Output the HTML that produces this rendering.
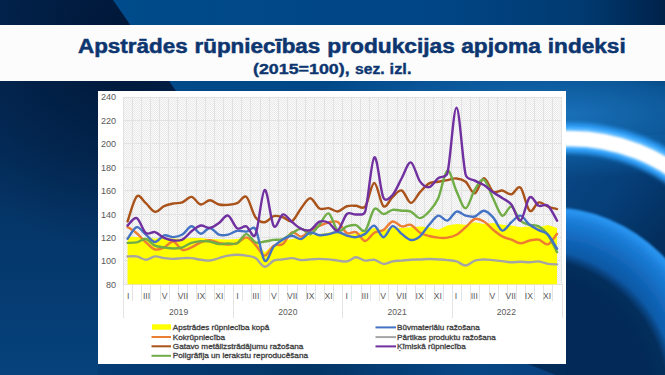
<!DOCTYPE html>
<html><head><meta charset="utf-8">
<style>
html,body{margin:0;padding:0;width:665px;height:375px;overflow:hidden;background:#03305f;}
svg{position:absolute;left:0;top:0;display:block;}
text{font-family:"Liberation Sans",sans-serif;}
</style></head>
<body>
<svg width="665" height="375" viewBox="0 0 665 375">
<defs>
<linearGradient id="bgL" x1="0" y1="0" x2="0" y2="1">
<stop offset="0" stop-color="#032a58"/><stop offset="0.4" stop-color="#04305f"/><stop offset="1" stop-color="#06427c"/>
</linearGradient>
<radialGradient id="shadeL" gradientUnits="userSpaceOnUse" cx="125" cy="40" r="210">
<stop offset="0" stop-color="#001535" stop-opacity="0.95"/><stop offset="0.5" stop-color="#001535" stop-opacity="0.5"/><stop offset="1" stop-color="#001535" stop-opacity="0"/>
</radialGradient>
<linearGradient id="bgTop" gradientUnits="userSpaceOnUse" x1="113" y1="0" x2="665" y2="0">
<stop offset="0" stop-color="#004b8b"/><stop offset="0.6" stop-color="#014585"/><stop offset="0.85" stop-color="#013a70"/><stop offset="1" stop-color="#00224a"/>
</linearGradient>
<linearGradient id="bgR" gradientUnits="userSpaceOnUse" x1="566" y1="135" x2="665" y2="81">
<stop offset="0" stop-color="#136aae"/><stop offset="0.5" stop-color="#0a5597"/><stop offset="1" stop-color="#013a72"/>
</linearGradient>
<radialGradient id="band" gradientUnits="userSpaceOnUse" cx="548" cy="367" r="161">
<stop offset="0.6" stop-color="#0a4a8e"/><stop offset="0.78" stop-color="#1062b4"/><stop offset="0.92" stop-color="#1b7ed8"/><stop offset="0.98" stop-color="#2a96f2"/><stop offset="1" stop-color="#1f84dc"/>
</radialGradient>
<linearGradient id="mid" gradientUnits="userSpaceOnUse" x1="566" y1="150" x2="665" y2="235">
<stop offset="0" stop-color="#0a4886"/><stop offset="0.5" stop-color="#063f79"/><stop offset="1" stop-color="#032e5d"/>
</linearGradient>
<radialGradient id="dark" gradientUnits="userSpaceOnUse" cx="528" cy="398" r="150">
<stop offset="0.8" stop-color="#022957"/><stop offset="0.93" stop-color="#032e5c"/><stop offset="1" stop-color="#042f5e" stop-opacity="0"/>
</radialGradient>
<filter id="blur2" x="-20%" y="-50%" width="140%" height="200%"><feGaussianBlur stdDeviation="2.2"/></filter>
<filter id="blur1" x="-20%" y="-50%" width="140%" height="200%"><feGaussianBlur stdDeviation="0.8"/></filter>
<filter id="blur3" x="-20%" y="-20%" width="140%" height="140%"><feGaussianBlur stdDeviation="1.2"/></filter>
<pattern id="chk" width="2" height="2" patternUnits="userSpaceOnUse">
<rect width="2" height="2" fill="#fbfbfb"/><rect width="1" height="1" fill="#e9e9e9"/><rect x="1" y="1" width="1" height="1" fill="#e9e9e9"/>
</pattern>
<radialGradient id="glow" gradientUnits="userSpaceOnUse" cx="560" cy="114" r="64" gradientTransform="translate(560 114) scale(4.2 1) translate(-560 -114)">
<stop offset="0" stop-color="#1a70b8"/><stop offset="0.55" stop-color="#0d5ea2" stop-opacity="0.85"/><stop offset="1" stop-color="#0d5ea2" stop-opacity="0"/>
</radialGradient>
<linearGradient id="bot" gradientUnits="userSpaceOnUse" x1="98" y1="0" x2="566" y2="0">
<stop offset="0" stop-color="#053c76"/><stop offset="0.45" stop-color="#033566"/><stop offset="0.8" stop-color="#074685"/><stop offset="1" stop-color="#083f7c"/>
</linearGradient>
<clipPath id="rclip"><rect x="566" y="81" width="99" height="294"/></clipPath>
</defs>
<!-- background -->
<rect width="665" height="375" fill="url(#bgL)"/>
<rect width="300" height="375" fill="url(#shadeL)"/>
<polygon points="113,0 665,0 665,375 566,375 566,91 176,91" fill="url(#bgTop)"/>
<g clip-path="url(#rclip)">
<rect x="566" y="135" width="99" height="240" fill="url(#mid)"/>
<circle cx="548" cy="367" r="160" fill="url(#band)" filter="url(#blur1)"/>
<circle cx="528" cy="398" r="150" fill="url(#dark)"/>
</g>
<rect x="176" y="40" width="489" height="160" fill="url(#glow)"/>
<g clip-path="url(#rclip)">
<circle cx="570" cy="322" r="184" stroke="#2f9ef8" stroke-width="30" fill="none" filter="url(#blur2)"/>
<circle cx="570" cy="322" r="184" stroke="#5ab8ff" stroke-width="21" fill="none" filter="url(#blur1)"/>
<circle cx="570" cy="322.5" r="184" stroke="#ffffff" stroke-width="15.5" fill="none" filter="url(#blur1)"/>
</g>
<rect x="98" y="364" width="468" height="11" fill="url(#bot)"/>
<polygon points="528,364 566,364 566,375 556,375" fill="#022b59"/>
<!-- banner -->
<rect x="0" y="25" width="665" height="56" fill="#fcfcfc"/>
<g font-weight="bold" fill="#0d3670" stroke="#0d3670">
<text x="78.0" y="53" font-size="19.5" stroke-width="0.5" textLength="109.6" lengthAdjust="spacingAndGlyphs">Apstrādes</text>
<text x="194.5" y="53" font-size="19.5" stroke-width="0.5" textLength="125.8" lengthAdjust="spacingAndGlyphs">rūpniecības</text>
<text x="327.3" y="53" font-size="19.5" stroke-width="0.5" textLength="127.6" lengthAdjust="spacingAndGlyphs">produkcijas</text>
<text x="461.2" y="53" font-size="19.5" stroke-width="0.5" textLength="79.6" lengthAdjust="spacingAndGlyphs">apjoma</text>
<text x="547.8" y="53" font-size="19.5" stroke-width="0.5" textLength="77.9" lengthAdjust="spacingAndGlyphs">indeksi</text>
<text x="253.0" y="74.4" font-size="13.8" stroke-width="0.35" textLength="96.6" lengthAdjust="spacingAndGlyphs">(2015=100),</text>
<text x="355.1" y="74.4" font-size="13.8" stroke-width="0.35" textLength="29.6" lengthAdjust="spacingAndGlyphs">sez.</text>
<text x="389.6" y="74.4" font-size="13.8" stroke-width="0.35" textLength="21.9" lengthAdjust="spacingAndGlyphs">izl.</text>
</g>
<!-- chart panel -->
<rect x="98" y="91" width="468" height="273" fill="#ffffff"/>
<rect x="123" y="97" width="438.6" height="187.3" fill="url(#chk)"/>
<g stroke="#e2e2e2" stroke-width="1" shape-rendering="crispEdges">
<line x1="123.0" y1="97.00" x2="561.6" y2="97.00"/>
<line x1="123.0" y1="120.41" x2="561.6" y2="120.41"/>
<line x1="123.0" y1="143.82" x2="561.6" y2="143.82"/>
<line x1="123.0" y1="167.24" x2="561.6" y2="167.24"/>
<line x1="123.0" y1="190.65" x2="561.6" y2="190.65"/>
<line x1="123.0" y1="214.06" x2="561.6" y2="214.06"/>
<line x1="123.0" y1="237.48" x2="561.6" y2="237.48"/>
<line x1="123.0" y1="260.89" x2="561.6" y2="260.89"/>
<line x1="123.0" y1="284.30" x2="561.6" y2="284.30"/>
<line x1="123.00" y1="97.0" x2="123.00" y2="284.3"/>
<line x1="132.14" y1="97.0" x2="132.14" y2="284.3"/>
<line x1="141.28" y1="97.0" x2="141.28" y2="284.3"/>
<line x1="150.41" y1="97.0" x2="150.41" y2="284.3"/>
<line x1="159.55" y1="97.0" x2="159.55" y2="284.3"/>
<line x1="168.69" y1="97.0" x2="168.69" y2="284.3"/>
<line x1="177.82" y1="97.0" x2="177.82" y2="284.3"/>
<line x1="186.96" y1="97.0" x2="186.96" y2="284.3"/>
<line x1="196.10" y1="97.0" x2="196.10" y2="284.3"/>
<line x1="205.24" y1="97.0" x2="205.24" y2="284.3"/>
<line x1="214.38" y1="97.0" x2="214.38" y2="284.3"/>
<line x1="223.51" y1="97.0" x2="223.51" y2="284.3"/>
<line x1="232.65" y1="97.0" x2="232.65" y2="284.3"/>
<line x1="241.79" y1="97.0" x2="241.79" y2="284.3"/>
<line x1="250.93" y1="97.0" x2="250.93" y2="284.3"/>
<line x1="260.06" y1="97.0" x2="260.06" y2="284.3"/>
<line x1="269.20" y1="97.0" x2="269.20" y2="284.3"/>
<line x1="278.34" y1="97.0" x2="278.34" y2="284.3"/>
<line x1="287.48" y1="97.0" x2="287.48" y2="284.3"/>
<line x1="296.61" y1="97.0" x2="296.61" y2="284.3"/>
<line x1="305.75" y1="97.0" x2="305.75" y2="284.3"/>
<line x1="314.89" y1="97.0" x2="314.89" y2="284.3"/>
<line x1="324.03" y1="97.0" x2="324.03" y2="284.3"/>
<line x1="333.16" y1="97.0" x2="333.16" y2="284.3"/>
<line x1="342.30" y1="97.0" x2="342.30" y2="284.3"/>
<line x1="351.44" y1="97.0" x2="351.44" y2="284.3"/>
<line x1="360.58" y1="97.0" x2="360.58" y2="284.3"/>
<line x1="369.71" y1="97.0" x2="369.71" y2="284.3"/>
<line x1="378.85" y1="97.0" x2="378.85" y2="284.3"/>
<line x1="387.99" y1="97.0" x2="387.99" y2="284.3"/>
<line x1="397.13" y1="97.0" x2="397.13" y2="284.3"/>
<line x1="406.26" y1="97.0" x2="406.26" y2="284.3"/>
<line x1="415.40" y1="97.0" x2="415.40" y2="284.3"/>
<line x1="424.54" y1="97.0" x2="424.54" y2="284.3"/>
<line x1="433.68" y1="97.0" x2="433.68" y2="284.3"/>
<line x1="442.81" y1="97.0" x2="442.81" y2="284.3"/>
<line x1="451.95" y1="97.0" x2="451.95" y2="284.3"/>
<line x1="461.09" y1="97.0" x2="461.09" y2="284.3"/>
<line x1="470.23" y1="97.0" x2="470.23" y2="284.3"/>
<line x1="479.36" y1="97.0" x2="479.36" y2="284.3"/>
<line x1="488.50" y1="97.0" x2="488.50" y2="284.3"/>
<line x1="497.64" y1="97.0" x2="497.64" y2="284.3"/>
<line x1="506.78" y1="97.0" x2="506.78" y2="284.3"/>
<line x1="515.91" y1="97.0" x2="515.91" y2="284.3"/>
<line x1="525.05" y1="97.0" x2="525.05" y2="284.3"/>
<line x1="534.19" y1="97.0" x2="534.19" y2="284.3"/>
<line x1="543.33" y1="97.0" x2="543.33" y2="284.3"/>
<line x1="552.46" y1="97.0" x2="552.46" y2="284.3"/>
<line x1="561.60" y1="97.0" x2="561.60" y2="284.3"/>
</g>
<g stroke="#e4e4e4" stroke-width="1" shape-rendering="crispEdges">
<line x1="123.5" y1="284.3" x2="123.5" y2="318"/>
<line x1="132.5" y1="284.3" x2="132.5" y2="301"/>
<line x1="141.5" y1="284.3" x2="141.5" y2="301"/>
<line x1="150.5" y1="284.3" x2="150.5" y2="301"/>
<line x1="160.5" y1="284.3" x2="160.5" y2="301"/>
<line x1="169.5" y1="284.3" x2="169.5" y2="301"/>
<line x1="178.5" y1="284.3" x2="178.5" y2="301"/>
<line x1="187.5" y1="284.3" x2="187.5" y2="301"/>
<line x1="196.5" y1="284.3" x2="196.5" y2="301"/>
<line x1="205.5" y1="284.3" x2="205.5" y2="301"/>
<line x1="214.5" y1="284.3" x2="214.5" y2="301"/>
<line x1="224.5" y1="284.3" x2="224.5" y2="301"/>
<line x1="233.5" y1="284.3" x2="233.5" y2="318"/>
<line x1="242.5" y1="284.3" x2="242.5" y2="301"/>
<line x1="251.5" y1="284.3" x2="251.5" y2="301"/>
<line x1="260.5" y1="284.3" x2="260.5" y2="301"/>
<line x1="269.5" y1="284.3" x2="269.5" y2="301"/>
<line x1="278.5" y1="284.3" x2="278.5" y2="301"/>
<line x1="287.5" y1="284.3" x2="287.5" y2="301"/>
<line x1="297.5" y1="284.3" x2="297.5" y2="301"/>
<line x1="306.5" y1="284.3" x2="306.5" y2="301"/>
<line x1="315.5" y1="284.3" x2="315.5" y2="301"/>
<line x1="324.5" y1="284.3" x2="324.5" y2="301"/>
<line x1="333.5" y1="284.3" x2="333.5" y2="301"/>
<line x1="342.5" y1="284.3" x2="342.5" y2="318"/>
<line x1="351.5" y1="284.3" x2="351.5" y2="301"/>
<line x1="361.5" y1="284.3" x2="361.5" y2="301"/>
<line x1="370.5" y1="284.3" x2="370.5" y2="301"/>
<line x1="379.5" y1="284.3" x2="379.5" y2="301"/>
<line x1="388.5" y1="284.3" x2="388.5" y2="301"/>
<line x1="397.5" y1="284.3" x2="397.5" y2="301"/>
<line x1="406.5" y1="284.3" x2="406.5" y2="301"/>
<line x1="415.5" y1="284.3" x2="415.5" y2="301"/>
<line x1="425.5" y1="284.3" x2="425.5" y2="301"/>
<line x1="434.5" y1="284.3" x2="434.5" y2="301"/>
<line x1="443.5" y1="284.3" x2="443.5" y2="301"/>
<line x1="452.5" y1="284.3" x2="452.5" y2="318"/>
<line x1="461.5" y1="284.3" x2="461.5" y2="301"/>
<line x1="470.5" y1="284.3" x2="470.5" y2="301"/>
<line x1="479.5" y1="284.3" x2="479.5" y2="301"/>
<line x1="489.5" y1="284.3" x2="489.5" y2="301"/>
<line x1="498.5" y1="284.3" x2="498.5" y2="301"/>
<line x1="507.5" y1="284.3" x2="507.5" y2="301"/>
<line x1="516.5" y1="284.3" x2="516.5" y2="301"/>
<line x1="525.5" y1="284.3" x2="525.5" y2="301"/>
<line x1="534.5" y1="284.3" x2="534.5" y2="301"/>
<line x1="543.5" y1="284.3" x2="543.5" y2="301"/>
<line x1="552.5" y1="284.3" x2="552.5" y2="301"/>
<line x1="562.5" y1="284.3" x2="562.5" y2="318"/>
</g>
<g font-size="9.1" fill="#595959" text-anchor="end">
<text x="116.2" y="100.4">240</text>
<text x="116.2" y="123.8">220</text>
<text x="116.2" y="147.2">200</text>
<text x="116.2" y="170.6">180</text>
<text x="116.2" y="194.1">160</text>
<text x="116.2" y="217.5">140</text>
<text x="116.2" y="240.9">120</text>
<text x="116.2" y="264.3">100</text>
<text x="116.2" y="287.7">80</text>
</g>
<g font-size="8.6" fill="#595959" text-anchor="middle">
<text x="128.27" y="299">I</text>
<text x="146.48" y="299">III</text>
<text x="164.69" y="299">V</text>
<text x="182.90" y="299">VII</text>
<text x="201.11" y="299">IX</text>
<text x="219.32" y="299">XI</text>
<text x="178.62" y="315">2019</text>
<text x="237.54" y="299">I</text>
<text x="255.75" y="299">III</text>
<text x="273.96" y="299">V</text>
<text x="292.17" y="299">VII</text>
<text x="310.38" y="299">IX</text>
<text x="328.59" y="299">XI</text>
<text x="287.88" y="315">2020</text>
<text x="346.80" y="299">I</text>
<text x="365.01" y="299">III</text>
<text x="383.23" y="299">V</text>
<text x="401.44" y="299">VII</text>
<text x="419.65" y="299">IX</text>
<text x="437.86" y="299">XI</text>
<text x="397.13" y="315">2021</text>
<text x="456.07" y="299">I</text>
<text x="474.28" y="299">III</text>
<text x="492.49" y="299">V</text>
<text x="510.70" y="299">VII</text>
<text x="528.91" y="299">IX</text>
<text x="547.13" y="299">XI</text>
<text x="506.38" y="315">2022</text>
</g>
<path d="M127.57 284.30 L127.57 236.41 L136.71 236.91 L145.84 238.07 L154.98 238.56 L164.12 238.07 L173.26 238.56 L182.39 238.90 L191.53 238.07 L200.67 238.07 L209.81 238.90 L218.94 239.23 L228.08 239.56 L237.22 239.06 L246.36 237.08 L255.49 240.72 L264.63 252.30 L273.77 244.52 L282.91 240.72 L292.04 239.06 L301.18 237.41 L310.32 235.26 L319.46 234.10 L328.59 232.44 L337.73 230.79 L346.87 234.70 L356.01 233.88 L365.14 230.57 L374.28 228.09 L383.42 230.57 L392.56 227.26 L401.69 228.09 L410.83 227.26 L419.97 226.43 L429.11 227.26 L438.24 229.74 L447.38 225.60 L456.52 223.95 L465.66 224.78 L474.79 222.30 L483.93 223.95 L493.07 223.12 L502.21 224.78 L511.34 225.60 L520.48 227.26 L529.62 226.43 L538.76 227.26 L547.89 225.11 L557.03 228.09 L557.03 284.30 Z" fill="#ffff00"/>
<g fill="none" stroke-width="2.4" stroke-linecap="round" stroke-linejoin="round">
<path d="M127.57 226.99 C129.09 228.03 133.66 230.71 136.71 233.27 C139.75 235.84 142.80 239.67 145.84 242.37 C148.89 245.07 151.94 248.66 154.98 249.48 C158.03 250.31 161.07 248.66 164.12 247.33 C167.16 246.01 170.21 241.13 173.26 241.54 C176.30 241.96 179.35 248.85 182.39 249.81 C185.44 250.78 188.49 248.57 191.53 247.33 C194.58 246.09 197.62 243.56 200.67 242.37 C203.71 241.18 206.76 240.14 209.81 240.22 C212.85 240.30 215.90 242.15 218.94 242.87 C221.99 243.58 225.04 244.47 228.08 244.52 C231.13 244.58 234.17 244.38 237.22 243.20 C240.26 242.01 243.31 237.13 246.36 237.41 C249.40 237.68 252.45 241.82 255.49 244.85 C258.54 247.88 261.59 255.47 264.63 255.60 C267.68 255.74 270.72 247.61 273.77 245.68 C276.81 243.75 279.86 246.23 282.91 244.02 C285.95 241.82 289.00 233.68 292.04 232.44 C295.09 231.20 298.14 236.88 301.18 236.58 C304.23 236.28 307.27 232.42 310.32 230.62 C313.36 228.83 316.41 227.18 319.46 225.83 C322.50 224.48 325.55 223.15 328.59 222.52 C331.64 221.88 334.69 220.27 337.73 222.02 C340.78 223.78 343.82 231.35 346.87 233.05 C349.91 234.75 352.96 230.90 356.01 232.22 C359.05 233.54 362.10 240.91 365.14 240.99 C368.19 241.07 371.24 234.54 374.28 232.72 C377.33 230.90 380.37 231.95 383.42 230.07 C386.46 228.20 389.51 222.07 392.56 221.47 C395.60 220.86 398.65 225.88 401.69 226.43 C404.74 226.98 407.79 223.73 410.83 224.78 C413.88 225.82 416.92 230.84 419.97 232.72 C423.01 234.59 426.06 235.20 429.11 236.03 C432.15 236.85 435.20 237.40 438.24 237.68 C441.29 237.96 444.34 238.18 447.38 237.68 C450.43 237.18 453.47 236.44 456.52 234.70 C459.56 232.97 462.61 229.88 465.66 227.26 C468.70 224.64 471.75 219.95 474.79 218.99 C477.84 218.02 480.89 219.68 483.93 221.47 C486.98 223.26 490.02 227.26 493.07 229.74 C496.11 232.22 499.16 234.70 502.21 236.36 C505.25 238.01 508.30 238.51 511.34 239.67 C514.39 240.82 517.44 243.17 520.48 243.30 C523.53 243.44 526.57 241.10 529.62 240.49 C532.66 239.89 535.71 239.03 538.76 239.67 C541.80 240.30 544.85 245.26 547.89 244.30 C550.94 243.33 555.51 235.61 557.03 233.88" stroke="#ED7D31"/>
<path d="M127.57 221.39 C129.09 217.26 133.66 199.61 136.71 196.58 C139.75 193.55 142.80 200.66 145.84 203.20 C148.89 205.73 151.94 211.30 154.98 211.80 C158.03 212.30 161.07 207.55 164.12 206.17 C167.16 204.80 170.21 204.16 173.26 203.53 C176.30 202.89 179.35 203.47 182.39 202.37 C185.44 201.27 188.49 196.55 191.53 196.91 C194.58 197.27 197.62 203.97 200.67 204.52 C203.71 205.07 206.76 200.22 209.81 200.22 C212.85 200.22 215.90 203.75 218.94 204.52 C221.99 205.29 225.04 205.07 228.08 204.85 C231.13 204.63 234.17 204.52 237.22 203.20 C240.26 201.87 243.31 194.57 246.36 196.91 C249.40 199.25 252.45 213.04 255.49 217.26 C258.54 221.47 261.59 222.41 264.63 222.22 C267.68 222.03 270.72 216.93 273.77 216.10 C276.81 215.27 279.86 216.43 282.91 217.26 C285.95 218.09 289.00 222.58 292.04 221.06 C295.09 219.55 298.14 211.96 301.18 208.16 C304.23 204.35 307.27 198.18 310.32 198.23 C313.36 198.29 316.41 206.84 319.46 208.49 C322.50 210.14 325.55 207.66 328.59 208.16 C331.64 208.66 334.69 211.79 337.73 211.47 C340.78 211.15 343.82 207.20 346.87 206.25 C349.91 205.30 352.96 205.70 356.01 205.75 C359.05 205.81 362.27 210.15 365.14 206.58 C368.19 202.80 371.24 183.11 374.28 183.05 C377.33 182.99 380.37 203.86 383.42 206.21 C386.46 208.55 389.51 199.73 392.56 197.11 C395.60 194.49 398.65 189.53 401.69 190.49 C404.74 191.46 407.79 202.62 410.83 202.90 C413.88 203.17 416.92 195.40 419.97 192.15 C423.01 188.89 426.06 185.12 429.11 183.38 C432.15 181.64 435.20 182.28 438.24 181.72 C441.29 181.17 444.34 180.62 447.38 180.07 C450.43 179.53 453.47 178.17 456.52 178.45 C459.56 178.74 462.61 179.28 465.66 181.76 C468.70 184.24 471.75 193.95 474.79 193.34 C477.84 192.74 480.89 178.40 483.93 178.12 C486.98 177.85 490.02 189.62 493.07 191.69 C496.11 193.76 499.16 190.09 502.21 190.53 C505.25 190.97 508.30 194.80 511.34 194.33 C514.39 193.87 517.44 184.99 520.48 187.72 C523.53 190.45 526.57 208.26 529.62 210.72 C532.66 213.17 535.71 203.13 538.76 202.44 C541.80 201.75 544.85 205.48 547.89 206.58 C550.94 207.68 555.51 208.65 557.03 209.06" stroke="#A9521A"/>
<path d="M127.57 242.87 C129.09 242.78 133.66 243.00 136.71 242.37 C139.75 241.74 142.80 238.51 145.84 239.06 C148.89 239.61 151.94 244.30 154.98 245.68 C158.03 247.06 161.07 246.86 164.12 247.33 C167.16 247.80 170.21 248.49 173.26 248.49 C176.30 248.49 179.35 248.27 182.39 247.33 C185.44 246.40 188.49 243.89 191.53 242.87 C194.58 241.85 197.62 241.43 200.67 241.21 C203.71 240.99 206.76 241.07 209.81 241.54 C212.85 242.01 215.90 243.69 218.94 244.02 C221.99 244.35 225.04 243.67 228.08 243.53 C231.13 243.39 234.17 244.77 237.22 243.20 C240.26 241.63 243.31 234.24 246.36 234.10 C249.40 233.96 252.45 241.13 255.49 242.37 C258.54 243.61 261.59 241.96 264.63 241.54 C267.68 241.13 270.72 240.30 273.77 239.89 C276.81 239.47 279.86 240.16 282.91 239.06 C285.95 237.96 289.00 235.01 292.04 233.27 C295.09 231.53 298.14 228.47 301.18 228.64 C304.23 228.80 307.27 234.93 310.32 234.26 C313.36 233.60 316.41 228.14 319.46 224.67 C322.50 221.20 325.55 212.43 328.59 213.42 C331.64 214.41 334.69 228.46 337.73 230.62 C340.78 232.79 343.82 227.35 346.87 226.43 C349.91 225.51 352.96 224.42 356.01 225.11 C359.05 225.80 362.10 233.24 365.14 230.57 C368.19 227.89 371.24 211.82 374.28 209.06 C377.33 206.30 380.37 213.89 383.42 214.02 C386.46 214.16 389.51 210.44 392.56 209.89 C395.60 209.34 398.65 210.44 401.69 210.72 C404.74 210.99 407.79 210.30 410.83 211.54 C413.88 212.78 416.92 218.16 419.97 218.16 C423.01 218.16 426.06 214.85 429.11 211.54 C432.15 208.23 435.20 205.13 438.24 198.31 C441.29 191.49 444.34 171.80 447.38 170.64 C450.43 169.48 453.47 185.09 456.52 191.36 C459.56 197.62 462.61 208.51 465.66 208.23 C468.70 207.96 471.75 194.45 474.79 189.70 C477.84 184.96 480.89 178.34 483.93 179.78 C486.98 181.21 490.02 192.32 493.07 198.31 C496.11 204.29 499.16 214.30 502.21 215.68 C505.25 217.06 508.30 205.75 511.34 206.58 C514.39 207.41 517.44 217.61 520.48 220.64 C523.53 223.67 526.57 223.81 529.62 224.78 C532.66 225.74 535.71 224.78 538.76 226.43 C541.80 228.09 544.85 230.43 547.89 234.70 C550.94 238.98 555.51 249.18 557.03 252.07" stroke="#70AD47"/>
<path d="M127.57 238.73 C129.09 236.80 133.66 227.84 136.71 227.15 C139.75 226.46 142.80 232.11 145.84 234.59 C148.89 237.08 151.94 241.90 154.98 242.04 C158.03 242.18 161.07 236.25 164.12 235.42 C167.16 234.59 170.21 237.21 173.26 237.08 C176.30 236.94 179.35 236.39 182.39 234.59 C185.44 232.80 188.49 226.46 191.53 226.32 C194.58 226.19 197.62 233.49 200.67 233.77 C203.71 234.04 206.76 227.84 209.81 227.98 C212.85 228.12 215.90 233.49 218.94 234.59 C221.99 235.70 225.04 235.23 228.08 234.59 C231.13 233.96 234.17 231.29 237.22 230.79 C240.26 230.29 243.31 231.89 246.36 231.62 C249.40 231.34 252.97 225.13 255.49 229.14 C258.54 233.96 261.59 257.67 264.63 260.57 C267.68 263.46 270.72 250.01 273.77 246.51 C276.81 243.00 279.86 241.35 282.91 239.56 C285.95 237.77 289.00 235.84 292.04 235.75 C295.09 235.67 298.14 239.61 301.18 239.06 C304.23 238.51 307.27 233.08 310.32 232.44 C313.36 231.81 316.41 234.98 319.46 235.26 C322.50 235.53 325.55 234.65 328.59 234.10 C331.64 233.55 334.69 231.71 337.73 231.95 C340.78 232.19 343.82 234.66 346.87 235.53 C349.91 236.40 352.96 237.46 356.01 237.18 C359.05 236.91 362.10 235.81 365.14 233.88 C368.19 231.95 371.24 225.05 374.28 225.60 C377.33 226.16 380.37 237.10 383.42 237.18 C386.46 237.27 389.51 226.65 392.56 226.10 C395.60 225.55 398.65 231.56 401.69 233.88 C404.74 236.19 407.79 239.58 410.83 240.00 C413.88 240.41 416.92 238.89 419.97 236.36 C423.01 233.82 426.06 228.22 429.11 224.78 C432.15 221.33 435.20 216.37 438.24 215.68 C441.29 214.99 444.34 221.33 447.38 220.64 C450.43 219.95 453.47 212.37 456.52 211.54 C459.56 210.72 462.61 214.85 465.66 215.68 C468.70 216.51 471.75 217.33 474.79 216.51 C477.84 215.68 480.89 210.58 483.93 210.72 C486.98 210.85 490.02 214.02 493.07 217.33 C496.11 220.64 499.16 229.74 502.21 230.57 C505.25 231.39 508.30 224.78 511.34 222.30 C514.39 219.81 517.44 215.26 520.48 215.68 C523.53 216.09 526.57 222.38 529.62 224.78 C532.66 227.18 535.71 228.42 538.76 230.07 C541.80 231.72 544.85 231.59 547.89 234.70 C550.94 237.82 555.51 246.42 557.03 248.76" stroke="#4472C4"/>
<path d="M127.57 256.43 C129.09 256.43 133.66 255.88 136.71 256.43 C139.75 256.98 142.80 259.74 145.84 259.74 C148.89 259.74 151.94 256.71 154.98 256.43 C158.03 256.16 161.07 257.67 164.12 258.09 C167.16 258.50 170.21 258.91 173.26 258.91 C176.30 258.91 179.35 258.22 182.39 258.09 C185.44 257.95 188.49 257.81 191.53 258.09 C194.58 258.36 197.62 259.33 200.67 259.74 C203.71 260.15 206.76 260.84 209.81 260.57 C212.85 260.29 215.90 258.91 218.94 258.09 C221.99 257.26 225.04 256.16 228.08 255.60 C231.13 255.05 234.17 254.78 237.22 254.78 C240.26 254.78 243.31 255.05 246.36 255.60 C249.40 256.16 252.45 256.24 255.49 258.09 C258.54 259.93 261.59 266.27 264.63 266.69 C267.68 267.10 270.72 261.78 273.77 260.57 C276.81 259.35 279.86 259.82 282.91 259.41 C285.95 259.00 289.00 257.97 292.04 258.09 C295.09 258.20 298.14 259.85 301.18 260.07 C304.23 260.29 307.27 259.60 310.32 259.41 C313.36 259.22 316.41 258.91 319.46 258.91 C322.50 258.91 325.55 259.13 328.59 259.41 C331.64 259.68 334.69 260.23 337.73 260.57 C340.78 260.90 343.82 261.98 346.87 261.43 C349.91 260.89 352.96 257.43 356.01 257.30 C359.05 257.16 362.10 260.19 365.14 260.60 C368.19 261.02 371.24 259.23 374.28 259.78 C377.33 260.33 380.37 263.64 383.42 263.91 C386.46 264.19 389.51 261.98 392.56 261.43 C395.60 260.88 398.65 260.88 401.69 260.60 C404.74 260.33 407.79 259.97 410.83 259.78 C413.88 259.58 416.92 259.58 419.97 259.45 C423.01 259.31 426.06 258.95 429.11 258.95 C432.15 258.95 435.20 259.25 438.24 259.45 C441.29 259.64 444.34 259.78 447.38 260.11 C450.43 260.44 453.47 260.52 456.52 261.43 C459.56 262.34 462.61 265.70 465.66 265.57 C468.70 265.43 471.75 261.62 474.79 260.60 C477.84 259.58 480.89 259.53 483.93 259.45 C486.98 259.36 490.02 259.83 493.07 260.11 C496.11 260.38 499.16 260.74 502.21 261.10 C505.25 261.46 508.30 262.15 511.34 262.26 C514.39 262.37 517.44 261.76 520.48 261.76 C523.53 261.76 526.57 262.31 529.62 262.26 C532.66 262.20 535.71 261.16 538.76 261.43 C541.80 261.71 544.85 263.42 547.89 263.91 C550.94 264.41 555.51 264.33 557.03 264.41" stroke="#A5A5A5"/>
<path d="M127.57 225.53 C129.09 224.29 133.66 216.84 136.71 218.09 C139.75 219.33 142.80 230.63 145.84 232.97 C148.89 235.32 151.94 231.32 154.98 232.15 C158.03 232.97 161.07 236.56 164.12 237.94 C167.16 239.31 170.21 240.14 173.26 240.42 C176.30 240.69 179.35 241.11 182.39 239.59 C185.44 238.07 188.49 233.66 191.53 231.32 C194.58 228.98 197.62 226.08 200.67 225.53 C203.71 224.98 206.76 228.42 209.81 228.01 C212.85 227.60 215.90 225.12 218.94 223.05 C221.99 220.98 225.04 214.72 228.08 215.60 C231.13 216.49 234.17 226.55 237.22 228.34 C240.26 230.13 243.31 225.31 246.36 226.36 C249.40 227.40 252.73 240.14 255.49 234.63 C258.54 228.56 261.59 191.40 264.63 189.96 C267.68 188.53 270.72 221.95 273.77 226.03 C276.81 230.11 279.86 215.11 282.91 214.45 C285.95 213.78 289.00 219.66 292.04 222.06 C295.09 224.45 298.14 227.51 301.18 228.84 C304.23 230.16 307.27 231.18 310.32 230.00 C313.36 228.81 316.41 222.94 319.46 221.72 C322.50 220.51 325.55 221.26 328.59 222.72 C331.64 224.18 334.69 231.94 337.73 230.49 C340.78 229.04 343.82 216.69 346.87 214.02 C349.91 211.36 352.96 214.93 356.01 214.52 C359.05 214.11 363.68 216.12 365.14 211.54 C368.19 202.02 371.24 159.70 374.28 157.41 C377.33 155.11 380.37 191.51 383.42 197.77 C385.51 202.07 389.51 198.21 392.56 194.96 C395.60 191.71 398.65 183.68 401.69 178.25 C404.74 172.82 407.79 161.85 410.83 162.37 C413.88 162.89 416.92 177.26 419.97 181.39 C423.01 185.53 426.06 187.74 429.11 187.18 C432.15 186.63 435.20 180.40 438.24 178.09 C441.29 175.77 446.08 178.28 447.38 173.29 C450.43 161.57 453.47 107.50 456.52 107.75 C459.56 108.00 462.61 162.67 465.66 174.81 C466.97 180.06 471.75 178.89 474.79 180.60 C477.84 182.31 480.89 183.14 483.93 185.07 C486.98 187.00 490.02 190.03 493.07 192.18 C496.11 194.33 499.16 195.91 502.21 197.97 C505.25 200.04 508.30 200.81 511.34 204.59 C514.39 208.37 517.44 221.83 520.48 220.64 C523.53 219.46 526.57 199.96 529.62 197.48 C532.66 195.00 535.71 204.37 538.76 205.75 C541.80 207.13 544.85 203.27 547.89 205.75 C550.94 208.23 555.51 218.16 557.03 220.64" stroke="#7030A0"/>
</g>
<!-- legend -->
<g font-size="7.8" fill="#404040" stroke="#404040" stroke-width="0.3">
<rect x="152" y="324.3" width="19" height="5.4" fill="#ffff00" stroke="none"/>
<line x1="151.5" y1="337" x2="171" y2="337" stroke="#ED7D31" stroke-width="2"/>
<line x1="151.5" y1="346.3" x2="171" y2="346.3" stroke="#A9521A" stroke-width="2"/>
<line x1="151.5" y1="355.8" x2="171" y2="355.8" stroke="#70AD47" stroke-width="2"/>
<text x="172.8" y="330.1" textLength="96.6" lengthAdjust="spacingAndGlyphs">Apstrādes rūpniecība kopā</text>
<text x="172.8" y="339.6" textLength="52.2" lengthAdjust="spacingAndGlyphs">Kokrūpniecība</text>
<text x="172.8" y="349" textLength="130.5" lengthAdjust="spacingAndGlyphs">Gatavo metālizstrādājumu ražošana</text>
<text x="172.8" y="358.4" textLength="135.2" lengthAdjust="spacingAndGlyphs">Poligrāfija un ierakstu reproducēšana</text>
<line x1="375.5" y1="327.4" x2="396" y2="327.4" stroke="#4472C4" stroke-width="2"/>
<line x1="375.5" y1="337.1" x2="396" y2="337.1" stroke="#A5A5A5" stroke-width="2"/>
<line x1="375.5" y1="346.4" x2="396" y2="346.4" stroke="#7030A0" stroke-width="2"/>
<text x="397.1" y="329.9" textLength="82.6" lengthAdjust="spacingAndGlyphs">Būvmateriālu ražošana</text>
<text x="397.1" y="339.5" textLength="98.7" lengthAdjust="spacingAndGlyphs">Pārtikas produktu ražošana</text>
<text x="397.1" y="348.7" textLength="68.6" lengthAdjust="spacingAndGlyphs">Ķīmiskā rūpniecība</text>
</g>
</svg>
</body></html>
